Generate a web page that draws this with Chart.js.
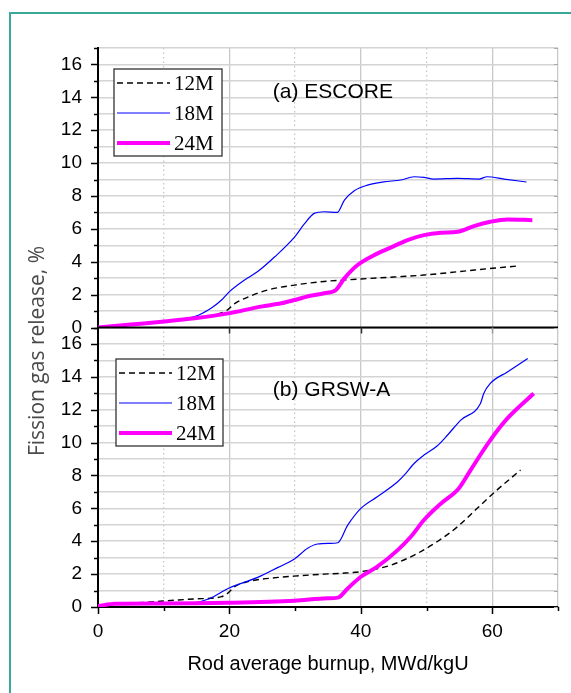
<!DOCTYPE html>
<html>
<head>
<meta charset="utf-8">
<script src="https://cdn.jsdelivr.net/npm/chart.js@4.4.0/dist/chart.umd.min.js"></script>
<style>
  html, body { margin: 0; padding: 0; background: #fff; }
  #wrap { position: relative; width: 571px; height: 693px; overflow: hidden; }
  #frame { position: absolute; left: 9px; top: 12px; width: 620px; height: 720px;
           border-left: 2px solid #3aa99a; border-top: 2px solid #3aa99a; }
  #chart { position: absolute; left: 0; top: 0; }
</style>
</head>
<body>
<div id="wrap">
  <div id="frame"></div>
  <canvas id="chart" width="571" height="693"></canvas>
</div>
<script>
// series names and panel names
const seriesLabels = ['12M', '18M', '24M'];
const panelTitles = ['(a) ESCORE', '(b) GRSW-A'];
const xLabelledTicks = [0, 20, 40, 60];

// (a) ESCORE
const escore12Burnup = [0, 5, 10, 15, 18.5, 19.6, 20.8, 22.8, 25.8, 29.9, 34.4, 40, 45, 49.6, 55.7, 60, 63.8];
const escore12Fgr    = [0, 0.2, 0.38, 0.62, 0.85, 1.05, 1.45, 1.85, 2.28, 2.58, 2.8, 2.95, 3.07, 3.19, 3.43, 3.6, 3.74];
const escore18Burnup = [0, 5, 10, 14.7, 17.2, 18.8, 20, 22.3, 24.3, 26.9, 29.9, 31.4, 32.9, 34.4, 36.4, 37.5, 39, 41, 43.5, 46.1, 48.1, 49.6, 51.1, 54.7, 58, 59.2, 61.8, 65.2];
const escore18Fgr    = [0, 0.18, 0.36, 0.66, 1.17, 1.67, 2.18, 2.89, 3.4, 4.3, 5.5, 6.3, 6.94, 7.04, 7.0, 7.75, 8.32, 8.66, 8.86, 8.97, 9.17, 9.13, 9.03, 9.07, 9.03, 9.17, 9.03, 8.85];
const escore24Burnup = [0, 5, 9.7, 14.7, 19.8, 24.8, 27.9, 29.9, 32, 34.4, 36.2, 37.5, 39.5, 42, 44.6, 47.1, 49.6, 52.2, 54.7, 57.2, 59.7, 62.3, 66.1];
const escore24Fgr    = [0, 0.18, 0.35, 0.56, 0.86, 1.27, 1.47, 1.67, 1.9, 2.08, 2.28, 2.99, 3.8, 4.4, 4.87, 5.32, 5.62, 5.76, 5.82, 6.17, 6.43, 6.57, 6.53];

// (b) GRSW-A
const grsw12Burnup = [0, 3, 7.1, 12.2, 14.7, 18.8, 19.6, 20.8, 22.8, 27.4, 29.9, 34.4, 37, 40, 44.6, 48.6, 51.6, 54.7, 57.7, 60.7, 64.3];
const grsw12Fgr    = [0.1, 0.2, 0.28, 0.43, 0.49, 0.63, 0.79, 1.24, 1.54, 1.8, 1.88, 2.0, 2.05, 2.15, 2.55, 3.26, 3.97, 4.88, 6.0, 7.11, 8.33];
const grsw18Burnup = [0, 3, 10, 14.7, 16.7, 18.3, 19.8, 21.8, 24.3, 27.4, 29.9, 31.9, 33.4, 35.2, 36.5, 38, 40, 42.5, 45.6, 46.6, 48.1, 49.6, 51.6, 53.2, 55.2, 58.2, 58.7, 59.7, 62.3, 65.4];
const grsw18Fgr    = [0.1, 0.2, 0.2, 0.26, 0.47, 0.79, 1.13, 1.44, 1.8, 2.41, 2.92, 3.57, 3.83, 3.87, 3.91, 4.98, 6.0, 6.71, 7.62, 8.02, 8.73, 9.24, 9.79, 10.46, 11.37, 12.38, 12.99, 13.6, 14.3, 15.12];
const grsw24Burnup = [0, 2.6, 9.7, 19.8, 29.9, 34.9, 36.5, 38, 40, 42.5, 45.6, 47.6, 49.6, 52.2, 54.9, 56.7, 59.7, 62.3, 66.3];
const grsw24Fgr    = [0.06, 0.2, 0.22, 0.26, 0.38, 0.53, 0.57, 1.13, 1.84, 2.45, 3.46, 4.27, 5.29, 6.3, 7.21, 8.33, 10.15, 11.47, 12.99];

const lineStyles = [
  { color: '#000000', width: 1.4, dash: [6, 4] },
  { color: '#0000ff', width: 1.2, dash: [] },
  { color: '#ff00ff', width: 4, dash: [] },
];

function zip(xs, ys) {
  return xs.map((x, i) => ({ x, y: ys[i] }));
}

function makeDataset(label, data, styleIdx, yAxis) {
  const s = lineStyles[styleIdx];
  return {
    label,
    data,
    yAxisID: yAxis,
    borderColor: s.color,
    backgroundColor: s.color,
    borderWidth: s.width,
    borderDash: s.dash,
    pointRadius: 0,
    fill: false,
    cubicInterpolationMode: 'monotone',
    order: 2 - styleIdx,
  };
}

const datasets = [
  makeDataset(seriesLabels[0], zip(escore12Burnup, escore12Fgr), 0, 'yTop'),
  makeDataset(seriesLabels[1], zip(escore18Burnup, escore18Fgr), 1, 'yTop'),
  makeDataset(seriesLabels[2], zip(escore24Burnup, escore24Fgr), 2, 'yTop'),
  makeDataset(seriesLabels[0], zip(grsw12Burnup, grsw12Fgr), 0, 'yBot'),
  makeDataset(seriesLabels[1], zip(grsw18Burnup, grsw18Fgr), 1, 'yBot'),
  makeDataset(seriesLabels[2], zip(grsw24Burnup, grsw24Fgr), 2, 'yBot'),
];

const sansFont = 'Liberation Sans, Arial, sans-serif';

function yScale() {
  return {
    type: 'linear',
    position: 'left',
    stack: 'panels',
    stackWeight: 1,
    min: 0,
    max: 17,
    ticks: {
      stepSize: 1,
      autoSkip: false,
      padding: 16,
      color: '#000',
      font: { family: sansFont, size: 19 },
      callback: v => (v % 2 === 0 && v <= 16 ? String(v) : ''),
    },
    grid: { drawTicks: false, color: '#d4d4d4', lineWidth: 1.5 },
    border: { color: '#000', width: 2 },
    afterFit: s => { s.width = 98; },
  };
}

// frame, tick marks, legends, panel names, y title
const overlay = {
  id: 'overlay',
  afterDraw(chart) {
    const { ctx, chartArea: ca, scales } = chart;
    const xs = scales.x, yT = scales.yTop, yB = scales.yBot;
    ctx.save();

    // line between the panels
    const mid = yT.getPixelForValue(0);
    ctx.strokeStyle = '#000';
    ctx.lineWidth = 2;
    ctx.beginPath();
    ctx.moveTo(ca.left, mid);
    ctx.lineTo(ca.right, mid);
    ctx.stroke();

    // y ticks: outward on the left, small inward gray on the right
    [yT, yB].forEach(sc => {
      for (let v = 0; v <= 17; v++) {
        const py = Math.round(sc.getPixelForValue(v)) + 0.5;
        const len = v % 2 === 0 ? 7 : 4;
        ctx.strokeStyle = '#000';
        ctx.lineWidth = 1.5;
        ctx.beginPath();
        ctx.moveTo(ca.left - len, py);
        ctx.lineTo(ca.left, py);
        ctx.stroke();
        ctx.strokeStyle = '#aaa';
        ctx.lineWidth = 1;
        ctx.beginPath();
        ctx.moveTo(ca.right - 4, py);
        ctx.lineTo(ca.right, py);
        ctx.stroke();
      }
    });

    // x ticks on the bottom axis and the middle line
    for (let v = 0; v <= 70; v += 10) {
      const px = Math.round(xs.getPixelForValue(v)) + 0.5;
      const major = v % 20 === 0;
      ctx.strokeStyle = '#000';
      ctx.lineWidth = 1.5;
      ctx.beginPath();
      ctx.moveTo(px, ca.bottom);
      ctx.lineTo(px, ca.bottom + (major ? 7 : 4));
      ctx.stroke();
      if (major && v > 0) {
        ctx.strokeStyle = v === 60 ? '#999' : '#333';
        ctx.beginPath();
        ctx.moveTo(px, mid);
        ctx.lineTo(px, mid + 6);
        ctx.stroke();
      }
    }

    // legends, one per panel
    const boxes = [
      { x: ca.left + 16, y: yT.top + 21, w: 108, h: 87, first: 0 },
      { x: ca.left + 18, y: yB.top + 31.5, w: 107, h: 87, first: 3 },
    ];
    boxes.forEach(b => {
      ctx.fillStyle = '#fff';
      ctx.fillRect(b.x, b.y, b.w, b.h);
      ctx.strokeStyle = '#333';
      ctx.lineWidth = 1.3;
      ctx.setLineDash([]);
      ctx.strokeRect(b.x, b.y, b.w, b.h);
      for (let i = 0; i < 3; i++) {
        const ds = chart.data.datasets[b.first + i];
        const ry = b.y + 14 + i * 30;
        ctx.strokeStyle = ds.borderColor;
        ctx.lineWidth = ds.borderWidth;
        ctx.setLineDash(ds.borderDash);
        ctx.beginPath();
        ctx.moveTo(b.x + 3, ry);
        ctx.lineTo(b.x + 56, ry);
        ctx.stroke();
        ctx.setLineDash([]);
        ctx.fillStyle = '#000';
        ctx.font = '21px "Liberation Serif", "Times New Roman", serif';
        ctx.textAlign = 'left';
        ctx.textBaseline = 'middle';
        ctx.fillText(ds.label, b.x + 60, ry + 1);
      }
    });

    // panel names
    ctx.fillStyle = '#000';
    ctx.font = '21px ' + sansFont;
    ctx.textAlign = 'left';
    ctx.textBaseline = 'middle';
    ctx.fillText(panelTitles[0], xs.getPixelForValue(26.6), yT.getPixelForValue(14.3));
    ctx.fillText(panelTitles[1], xs.getPixelForValue(26.6), yB.getPixelForValue(13.2));

    // shared y title
    ctx.translate(38, 351);
    ctx.rotate(-Math.PI / 2);
    ctx.fillStyle = '#4a4a4a';
    ctx.font = '21px "Open Sans", "Noto Sans", sans-serif';
    ctx.textAlign = 'center';
    ctx.textBaseline = 'middle';
    ctx.fillText('Fission gas release, %', 0, 0);

    ctx.restore();
  },
};

new Chart(document.getElementById('chart'), {
  type: 'line',
  data: { datasets },
  options: {
    responsive: false,
    animation: false,
    events: [],
    layout: { padding: { left: 0, right: 12, top: 48, bottom: 0 } },
    plugins: { legend: { display: false }, tooltip: { enabled: false } },
    scales: {
      x: {
        type: 'linear',
        position: 'bottom',
        min: 0,
        max: 70,
        ticks: {
          stepSize: 10,
          autoSkip: false,
          maxRotation: 0,
          padding: 13,
          color: '#000',
          font: { family: sansFont, size: 19 },
          callback: v => (xLabelledTicks.includes(v) ? String(v) : ''),
        },
        grid: { drawTicks: false, color: '#c8c8c8', lineWidth: 1.3 },
        border: {
          color: '#000',
          width: 2,
          dash: ctx => (ctx.tick && ctx.tick.value % 20 !== 0 && ctx.tick.value !== 70 ? [1.5, 3] : []),
        },
        title: {
          display: true,
          text: 'Rod average burnup, MWd/kgU',
          color: '#000',
          font: { family: sansFont, size: 20 },
          padding: { top: 0, bottom: 17 },
        },
        afterFit: s => { s.height = 86; },
      },
      // the stack places the last-listed axis on top
      yBot: yScale(),
      yTop: yScale(),
    },
  },
  plugins: [overlay],
});
</script>
</body>
</html>
